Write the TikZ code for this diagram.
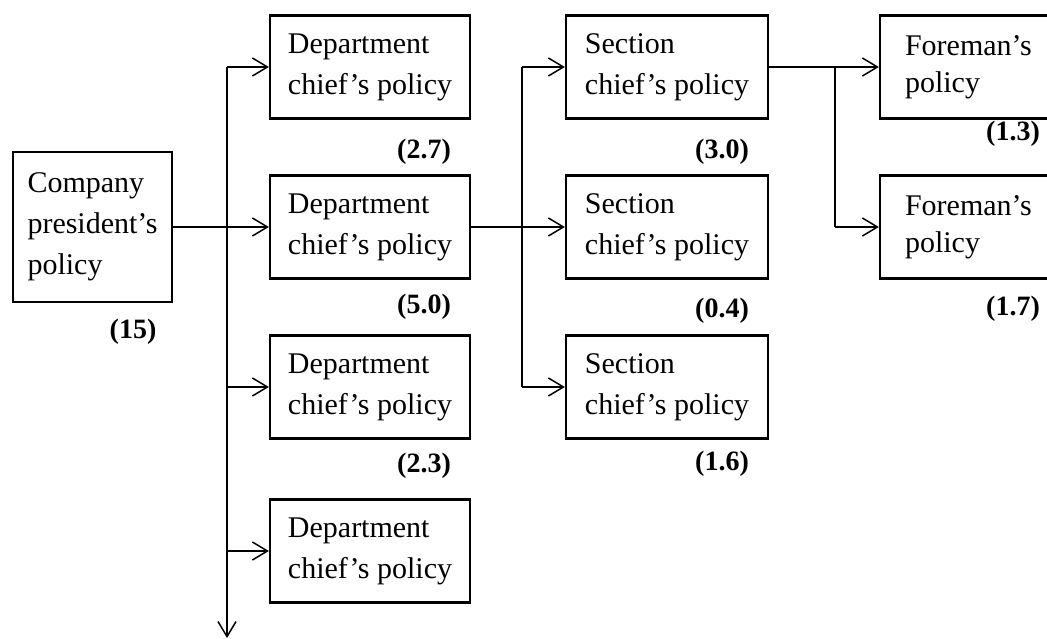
\documentclass[tikz,border=0pt]{standalone}
\usepackage{fontspec}
\setmainfont{Liberation Serif}
\usetikzlibrary{arrows.meta}
\begin{document}
\begin{tikzpicture}[x=1pt,y=-1pt,
  policybox/.style={draw, line width=2.3pt, rectangle, inner sep=0pt,
    align=left, font=\fontsize{30}{41}\selectfont},
  deptbox/.style={policybox, minimum width=200pt, minimum height=103pt},
  sectbox/.style={policybox, minimum width=202pt, minimum height=103pt},
  foreboxx/.style={policybox, minimum width=200pt, minimum height=103pt,
    inner xsep=25pt, text width=150pt, font=\fontsize{30}{37}\selectfont},
  weight/.style={font=\bfseries\fontsize{28}{32}\selectfont, inner sep=0pt},
  link/.style={line width=1.5pt},
  arr/.style={link, -{Straight Barb[length=15pt,width=18pt,line width=1.5pt]}},
  trunk/.style={line width=2.5pt}]
\useasboundingbox (0,0) rectangle (1047,639);

% company level
\node[policybox, minimum width=159pt, minimum height=150pt]
  (pres) at (92.5,227) {Company\\president's\\policy};
\node[weight] (w15) at (133,332) {(15)};

% department level
\node[deptbox] (d1) at (370,67) {Department\\chief's policy};
\node[deptbox] (d2) at (370,227) {Department\\chief's policy};
\node[deptbox] (d3) at (370,387) {Department\\chief's policy};
\node[deptbox] (d4) at (370,551) {Department\\chief's policy};
\node[weight] (w27) at (424,152) {(2.7)};
\node[weight] (w50) at (424,307) {(5.0)};
\node[weight] (w23) at (424,466) {(2.3)};

% section level
\node[sectbox] (s1) at (667,67) {Section\\chief's policy};
\node[sectbox] (s2) at (667,227) {Section\\chief's policy};
\node[sectbox] (s3) at (667,387) {Section\\chief's policy};
\node[weight] (w30) at (722,152) {(3.0)};
\node[weight] (w04) at (722,311) {(0.4)};
\node[weight] (w16) at (722,464) {(1.6)};

% foreman level
\node[foreboxx] (f1) at (980,67) {Foreman's\\policy};
\node[foreboxx] (f2) at (980,227) {Foreman's\\policy};
\node[weight] (w13) at (1013,134) {(1.3)};
\node[weight] (w17) at (1013,309) {(1.7)};

% trunk from the president's policy to the departments
\coordinate (vtop) at (227,67);
\coordinate (vbot) at (227,638);
\draw[trunk, -{Straight Barb[length=15pt,width=18pt,line width=1.5pt]}] (vtop) -- (vbot);
\draw[arr] (pres.east) -- (d2.west);
\draw[arr] (vtop) -- (d1.west);
\draw[arr] (vtop |- d3.west) -- (d3.west);
\draw[arr] (vtop |- d4.west) -- (d4.west);

% branch to the sections
\coordinate (stop) at (522,67);
\coordinate (sbot) at (522,387);
\draw[trunk] (stop) -- (sbot);
\draw[arr] (d2.east) -- (s2.west);
\draw[arr] (stop) -- (s1.west);
\draw[arr] (sbot) -- (s3.west);

% branch to the foremen
\coordinate (ftop) at (835,67);
\draw[arr] (s1.east) -- (f1.west);
\draw[trunk] (ftop) -- (ftop |- f2.west);
\draw[arr] (ftop |- f2.west) -- (f2.west);
\end{tikzpicture}
\end{document}
